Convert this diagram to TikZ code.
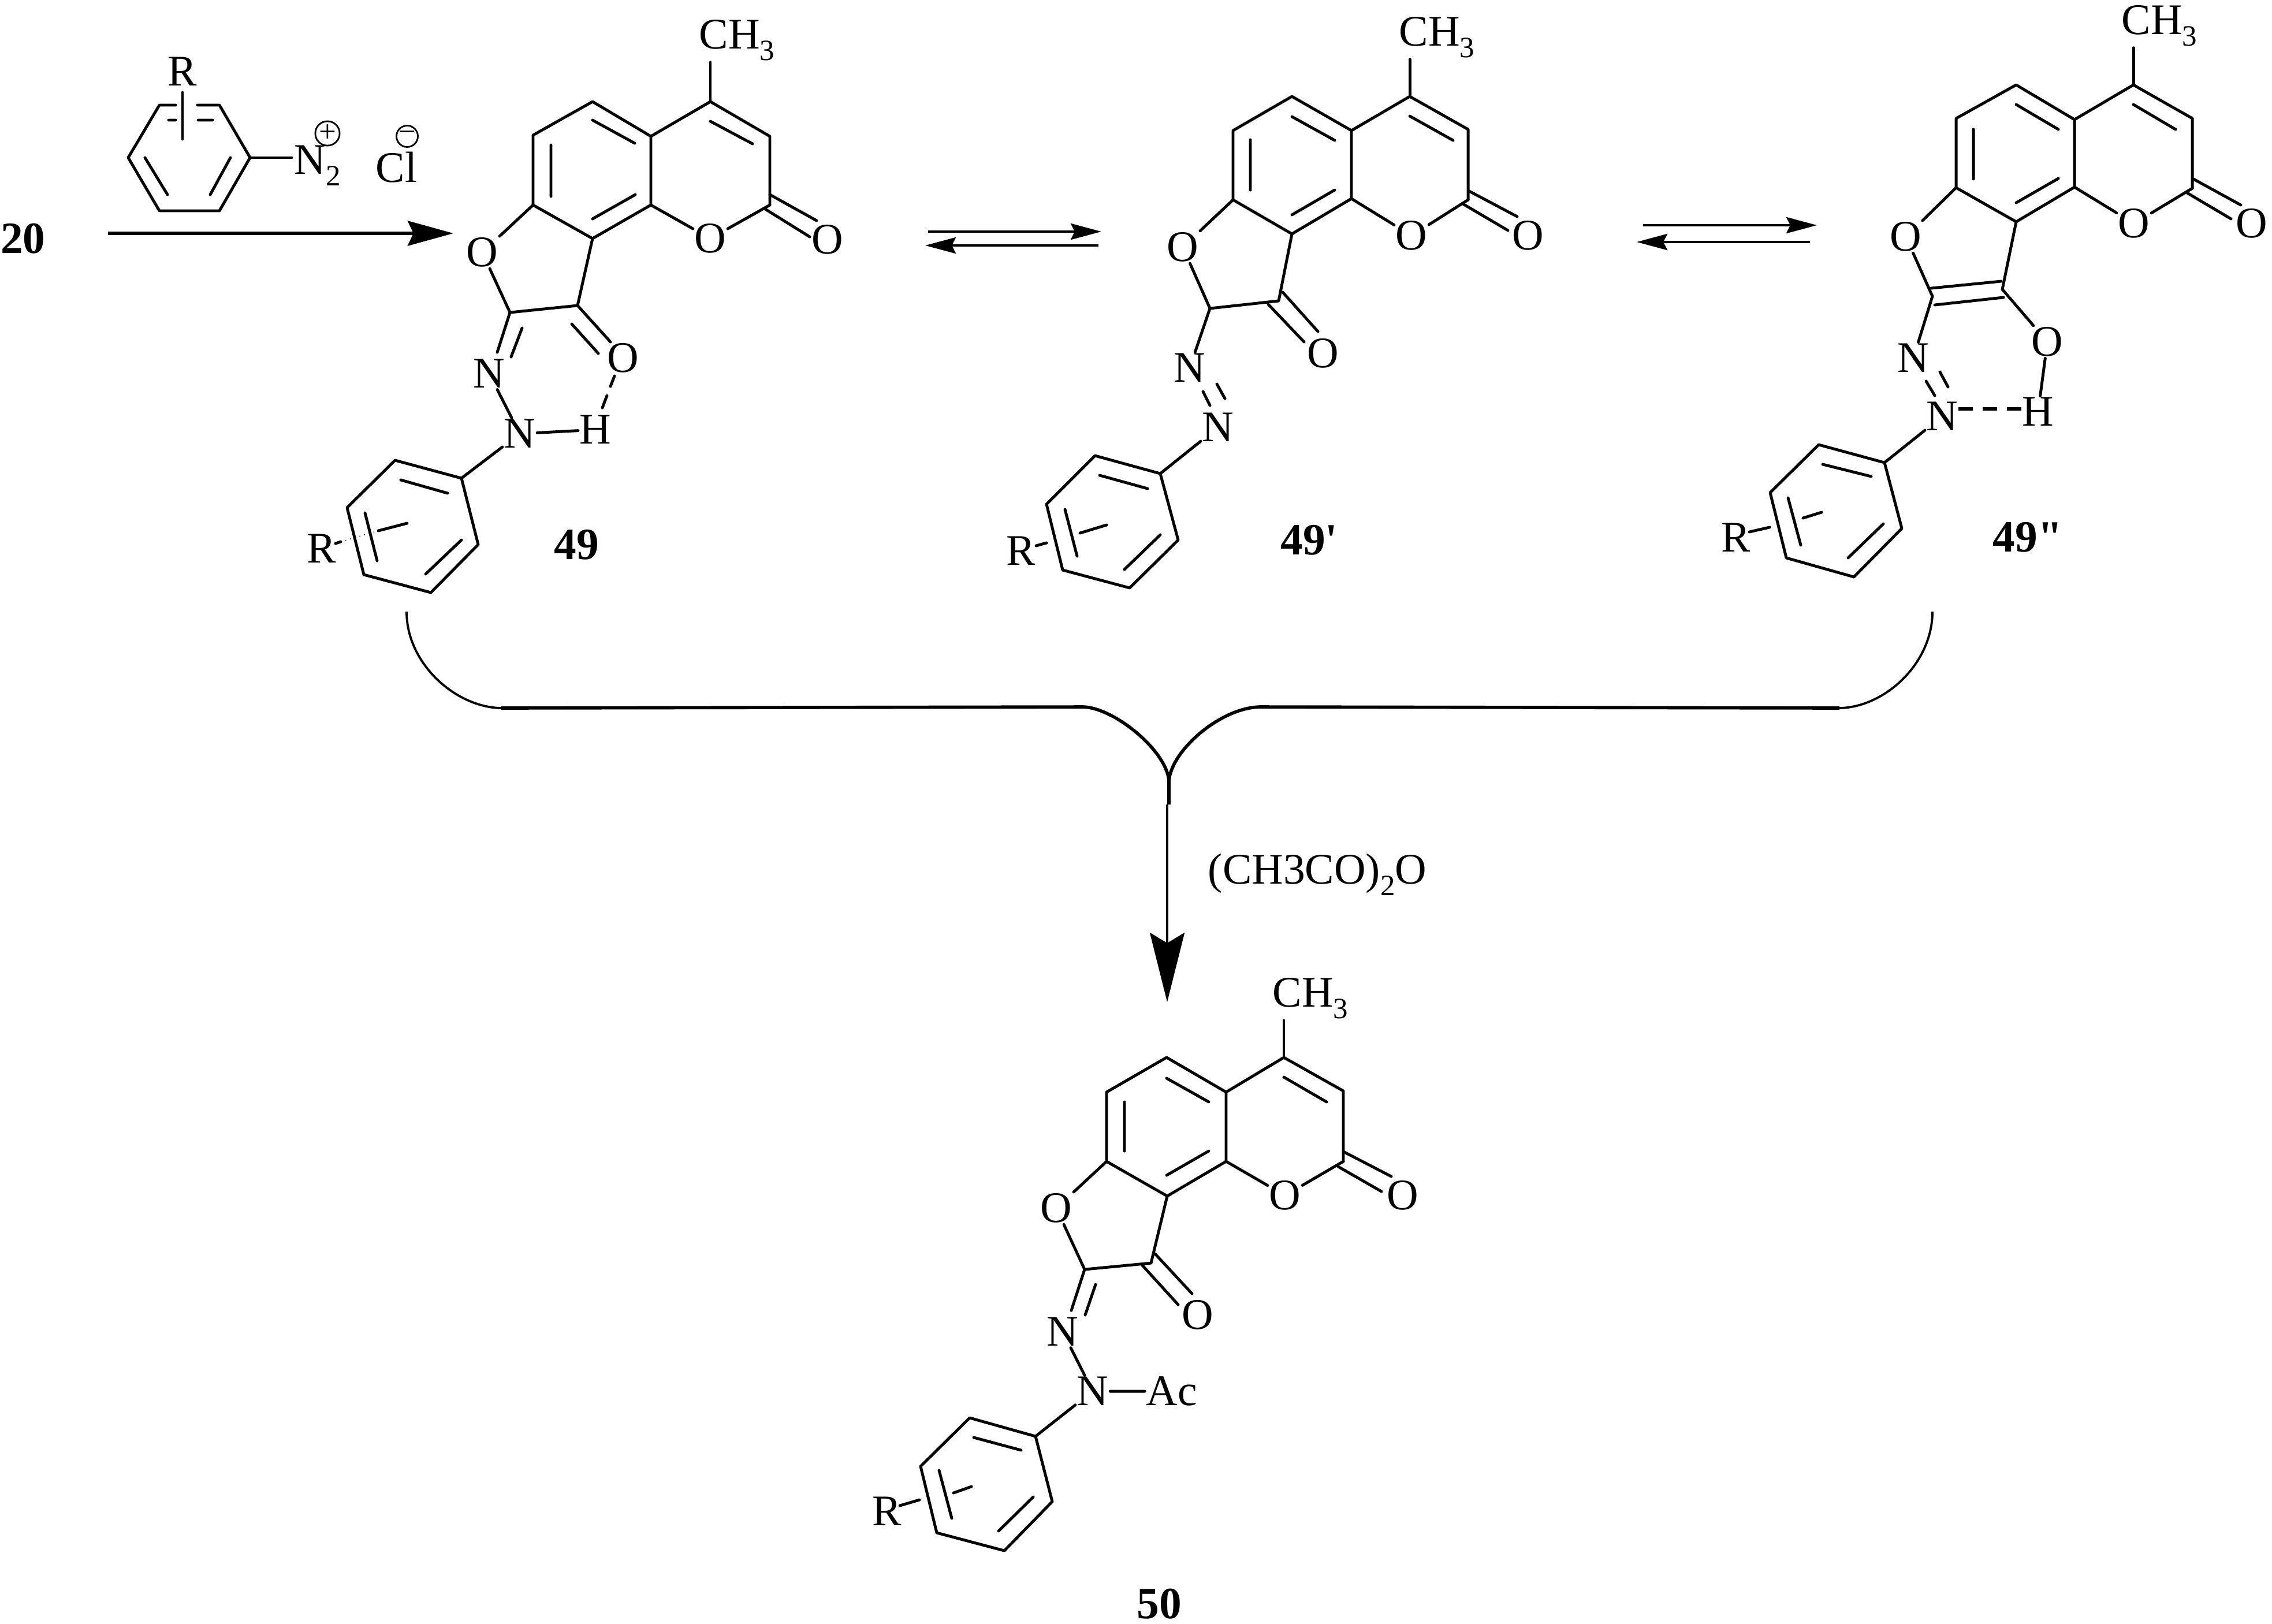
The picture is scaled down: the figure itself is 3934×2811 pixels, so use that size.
\documentclass[tikz,border=0pt]{standalone}
\usepackage{fontspec}
\setmainfont{Liberation Serif}
\usetikzlibrary{arrows.meta}
\newcommand{\atomfont}{\fontsize{21.5}{21.5}\selectfont}
\newcommand{\numfont}{\fontsize{22}{22}\selectfont\bfseries}
\newcommand{\subs}[1]{\raisebox{-0.27em}{\fontsize{14.5}{14.5}\selectfont #1}}
\tikzset{
  bond/.style={line width=1.4pt,line cap=round,line join=round},
  lab/.style={inner sep=0.6pt,font=\atomfont},
  num/.style={inner sep=0pt,font=\numfont},
  rxn/.style={line width=1.6pt,-{Stealth[length=0.79cm,width=0.43cm,inset=0.1cm]}},
  eq/.style={line width=1.2pt,-{Stealth[length=0.53cm,width=0.28cm,inset=0.07cm]}},
  brace/.style={line width=1.1pt,line cap=butt},
  bracebar/.style={line width=1.6pt,line cap=butt},
  big/.style={line width=1.1pt,-{Stealth[length=1.2cm,width=0.6cm,inset=0.18cm]}},
  chg/.style={draw,circle,line width=0.8pt,minimum size=0.37cm,inner sep=0pt,font=\fontsize{15}{15}\selectfont}
}
\begin{document}
\begin{tikzpicture}[x=0.01cm,y=-0.01cm]
\useasboundingbox (0,0) rectangle (3934,2811);
% ---------- reagent
\node[num] (n20) at (40,413) {20};
\coordinate (r1) at (276,182); \coordinate (r2) at (380,182); \coordinate (r3) at (433,273);
\coordinate (r4) at (380,365); \coordinate (r5) at (276,365); \coordinate (r6) at (222,273);
\draw[bond] (304,182) -- (r1) -- (r6) -- (r5) -- (r4) -- (r3) -- (r2) -- (342,182);
\draw[bond] (292,208) -- (304,208) (343,208) -- (368,208) (251,273) -- (290,337) (399,273) -- (364,337);
\node[lab] (rR) at (316,124) {R};
\draw[bond] (316,160) -- (316,241);
\node[lab,anchor=base west] (rN) at (507,301) {N\subs{2}};
\draw[bond] (r3) -- (505,273);
\node[chg] (rp) at (567,231) {+};
\node[chg] (rm) at (705,236) {−};
\node[lab,anchor=base west] (rCl) at (648,315) {Cl};
\coordinate (a0) at (187,404); \coordinate (a1e) at (785,404);
\draw[rxn] (a0) -- (a1e);
% ---------- molecule 49
\foreach \n/\x/\y in {a1/1026/176,a2/1127/236,a3/1127/355,a4/1026/413,a5/923/355,a6/923/234,b1/1230/176,b2/1333/236,b3/1333/355,c1/883/541,c2/1000/529,p1/799/828,p2/684/797,p3/601/879,p4/630/995,p5/746/1026,p6/828/943}
  \coordinate (A\n) at (\x,\y);
\node[lab,anchor=base west] (ACH) at (1208,84) {CH\subs{3}};
\node[lab] (AO1) at (1230,413) {O};
\node[lab] (AO2) at (1433,415) {O};
\node[lab] (AO3) at (835,437) {O};
\node[lab] (AO4) at (1079,620) {O};
\node[lab] (AN1) at (847,647) {N};
\node[lab] (AN2) at (900,751) {N};
\node[lab] (AH) at (1031,744) {H};
\node[lab] (AR) at (557,950) {R};
\node[num] (A49) at (998,943) {49};
\draw[bond] (Aa1) -- (Aa2) -- (Aa3) -- (Aa4) -- (Aa5) -- (Aa6) -- cycle;
\draw[bond] (Aa2) -- (Ab1) -- (Ab2) -- (Ab3);
\draw[bond] (Ab1) -- (Ab1 |- ACH.south);
\draw[bond] (Aa3) -- (AO1) (AO1) -- (Ab3);
\draw[bond] (1333,337) -- (1414,382) (1325,362) -- (1402,410);
\draw[bond] (1026,208) -- (1099,248) (1026,379) -- (1100,337) (954,251) -- (954,340) (1230,210) -- (1303,249);
\draw[bond] (Aa5) -- (AO3) (AO3) -- (Ac1) -- (Ac2) -- (Aa4);
\draw[bond] (Ac1) -- (861,610) (904,568) -- (885,618);
\draw[bond] (AN1) -- (AN2) (AN2) -- (AH);
\draw[bond] (Ac2) -- (1057,592) (990,561) -- (1036,612);
\draw[bond] (1064,651) -- (1057,669) (1051,685) -- (1043,706);
\draw[bond] (AN2) -- (Ap1);
\draw[bond] (Ap1) -- (Ap2) -- (Ap3) -- (Ap4) -- (Ap5) -- (Ap6) -- cycle;
\draw[bond] (694,831) -- (775,854) (632,888) -- (653,971) (799,935) -- (737,994);
\draw[bond] (581,941) -- (590,938) (655,919) -- (705,906);
\draw[line width=0.4pt,dotted] (590,938) -- (655,919);
% equilibrium 1
\coordinate (e1a) at (1607,401); \coordinate (e1b) at (1907,401);
\coordinate (e1c) at (1902,425); \coordinate (e1d) at (1602,425);
\draw[eq] (e1a) -- (e1b); \draw[eq] (e1c) -- (e1d);
% ---------- molecule 49'
\foreach \n/\x/\y in {a1/2237/167,a2/2340/226,a3/2340/344,a4/2237/405,a5/2135/346,a6/2135/226,b1/2441/167,b2/2542/224,b3/2542/346,c1/2095/534,c2/2214/521,p1/2009/820,p2/1896/789,p3/1812/873,p4/1840/987,p5/1956/1018,p6/2040/935}
  \coordinate (B\n) at (\x,\y);
\node[lab,anchor=base west] (BCH) at (2420,79) {CH\subs{3}};
\node[lab] (BO1) at (2444,408) {O};
\node[lab] (BO2) at (2646,408) {O};
\node[lab] (BO3) at (2048,428) {O};
\node[lab] (BO4) at (2291,612) {O};
\node[lab] (BN1) at (2060,637) {N};
\node[lab] (BN2) at (2109,740) {N};
\node[lab] (BR) at (1768,954) {R};
\node[num] (B49) at (2267,935) {49\textquotesingle};
\draw[bond] (Ba1) -- (Ba2) -- (Ba3) -- (Ba4) -- (Ba5) -- (Ba6) -- cycle;
\draw[bond] (Ba2) -- (Bb1) -- (Bb2) -- (Bb3);
\draw[bond] (Bb1) -- (Bb1 |- BCH.south);
\draw[bond] (Ba3) -- (BO1) (BO1) -- (Bb3);
\draw[bond] (2544,331) -- (2627,375) (2533,353) -- (2611,399);
\draw[bond] (2237,202) -- (2311,243) (2237,372) -- (2311,329) (2165,242) -- (2165,329) (2441,201) -- (2516,243);
\draw[bond] (Ba5) -- (BO3) (BO3) -- (Bc1) -- (Bc2) -- (Ba4);
\draw[bond] (2221,506) -- (2282,574) (2196,527) -- (2258,592);
\draw[bond] (Bc1) -- (BN1);
\draw[bond] (2083,678) -- (2095,702) (2107,665) -- (2121,690);
\draw[bond] (BN2) -- (Bp1);
\draw[bond] (Bp1) -- (Bp2) -- (Bp3) -- (Bp4) -- (Bp5) -- (Bp6) -- cycle;
\draw[bond] (1904,823) -- (1987,846) (1844,882) -- (1865,963) (2009,926) -- (1947,986);
\draw[bond] (1794,945) -- (1812,940) (1870,923) -- (1916,909);
% equilibrium 2
\coordinate (e2a) at (2845,390); \coordinate (e2b) at (3146,390);
\coordinate (e2c) at (3134,419); \coordinate (e2d) at (2834,419);
\draw[eq] (e2a) -- (e2b); \draw[eq] (e2c) -- (e2d);
% ---------- molecule 49''
\foreach \n/\x/\y in {a1/3491/147,a2/3592/207,a3/3592/324,a4/3491/384,a5/3387/325,a6/3387/205,b1/3694/147,b2/3796/205,b3/3796/326,c1/3346/513,c2/3467/501,p1/3263/801,p2/3149/770,p3/3065/853,p4/3093/966,p5/3210/999,p6/3293/915}
  \coordinate (C\n) at (\x,\y);
\node[lab,anchor=base west] (CCH) at (3671,59) {CH\subs{3}};
\node[lab] (CO1) at (3695,387) {O};
\node[lab] (CO2) at (3899,387) {O};
\node[lab] (CO3) at (3300,410) {O};
\node[lab] (CO4) at (3545,592) {O};
\node[lab] (CN1) at (3313,620) {N};
\node[lab] (CN2) at (3363,721) {N};
\node[lab] (CH) at (3529,713) {H};
\node[lab] (CR) at (3006,931) {R};
\node[num] (C49) at (3511,930) {49\textquotedbl};
\draw[bond] (Ca1) -- (Ca2) -- (Ca3) -- (Ca4) -- (Ca5) -- (Ca6) -- cycle;
\draw[bond] (Ca2) -- (Cb1) -- (Cb2) -- (Cb3);
\draw[bond] (Cb1) -- (Cb1 |- CCH.south);
\draw[bond] (Ca3) -- (CO1) (CO1) -- (Cb3);
\draw[bond] (3798,310) -- (3880,355) (3787,334) -- (3863,379);
\draw[bond] (3491,181) -- (3564,224) (3491,351) -- (3564,309) (3417,224) -- (3417,310) (3694,181) -- (3767,224);
\draw[bond] (Ca5) -- (CO3) (CO3) -- (Cc1);
\draw[bond] (3344,499) -- (3465,487) (3350,528) -- (3469,515);
\draw[bond] (Ca4) -- (Cc2) (Cc2) -- (CO4) (CO4) -- (CH);
\draw[bond] (Cc1) -- (CN1);
\draw[bond] (3335,660) -- (3350,685) (3359,644) -- (3373,670);
\draw[line width=1.7pt,dash pattern=on 0.25cm off 0.17cm] (3391,708) -- (3500,708);
\draw[bond] (CN2) -- (Cp1);
\draw[bond] (Cp1) -- (Cp2) -- (Cp3) -- (Cp4) -- (Cp5) -- (Cp6) -- cycle;
\draw[bond] (3156,804) -- (3240,825) (3096,862) -- (3118,944) (3261,907) -- (3200,966);
\draw[bond] (3029,921) -- (3064,913) (3122,897) -- (3154,887);
% ---------- merging bracket
\coordinate (bl) at (704,1059); \coordinate (bl2) at (868,1226);
\coordinate (bm1) at (1876,1224); \coordinate (bc) at (2024,1352); \coordinate (bc2) at (2024,1393);
\coordinate (bm2) at (2181,1224); \coordinate (br2) at (3185,1226); \coordinate (br) at (3346,1059);
\draw[brace] (bl) .. controls (704,1150) and (790,1225) .. (bl2);
\draw[brace] (br) .. controls (3346,1150) and (3262,1225) .. (br2);
\draw[bracebar] (bl2) -- (bm1) .. controls (1930,1226) and (2020,1300) .. (bc) -- (bc2);
\draw[bracebar] (br2) -- (bm2) .. controls (2112,1226) and (2028,1300) .. (bc);
\coordinate (bs) at (2021,1393); \coordinate (be) at (2021,1735);
\draw[big] (bs) -- (be);
\node[lab,anchor=base west] (reag) at (2089,1530) {(CH3CO)\subs{2}O};
% ---------- molecule 50
\foreach \n/\x/\y in {a1/2020/1831,a2/2123/1891,a3/2123/2011,a4/2021/2071,a5/1916/2011,a6/1916/1891,b1/2223/1831,b2/2326/1889,b3/2326/2011,c1/1878/2198,c2/1993/2187,p1/1793/2487,p2/1679/2455,p3/1594/2539,p4/1622/2654,p5/1739/2685,p6/1822/2600}
  \coordinate (D\n) at (\x,\y);
\node[lab,anchor=base west] (DCH) at (2201,1743) {CH\subs{3}};
\node[lab] (DO1) at (2225,2070) {O};
\node[lab] (DO2) at (2429,2070) {O};
\node[lab] (DO3) at (1829,2092) {O};
\node[lab] (DO4) at (2074,2277) {O};
\node[lab] (DN1) at (1840,2306) {N};
\node[lab] (DN2) at (1892,2409) {N};
\node[lab] (DAc) at (2029,2409) {Ac};
\node[lab] (DR) at (1536,2617) {R};
\node[num] (D50) at (2007,2777) {50};
\draw[bond] (Da1) -- (Da2) -- (Da3) -- (Da4) -- (Da5) -- (Da6) -- cycle;
\draw[bond] (Da2) -- (Db1) -- (Db2) -- (Db3);
\draw[bond] (Db1) -- (Db1 |- DCH.south);
\draw[bond] (Da3) -- (DO1) (DO1) -- (Db3);
\draw[bond] (2326,1994) -- (2409,2037) (2317,2020) -- (2392,2063);
\draw[bond] (2020,1867) -- (2093,1908) (2020,2035) -- (2093,1993) (1947,1908) -- (1947,1993) (2223,1865) -- (2297,1908);
\draw[bond] (Da5) -- (DO3) (DO3) -- (Dc1) -- (Dc2) -- (Da4);
\draw[bond] (2000,2171) -- (2064,2240) (1978,2191) -- (2040,2259);
\draw[bond] (Dc1) -- (1855,2269) (1897,2224) -- (1879,2277);
\draw[bond] (DN1) -- (DN2) (DN2) -- (DAc);
\draw[bond] (DN2) -- (Dp1);
\draw[bond] (Dp1) -- (Dp2) -- (Dp3) -- (Dp4) -- (Dp5) -- (Dp6) -- cycle;
\draw[bond] (1686,2489) -- (1768,2511) (1626,2546) -- (1648,2629) (1789,2592) -- (1729,2651);
\draw[bond] (1558,2607) -- (1592,2597) (1651,2585) -- (1682,2574);
\end{tikzpicture}
\end{document}
